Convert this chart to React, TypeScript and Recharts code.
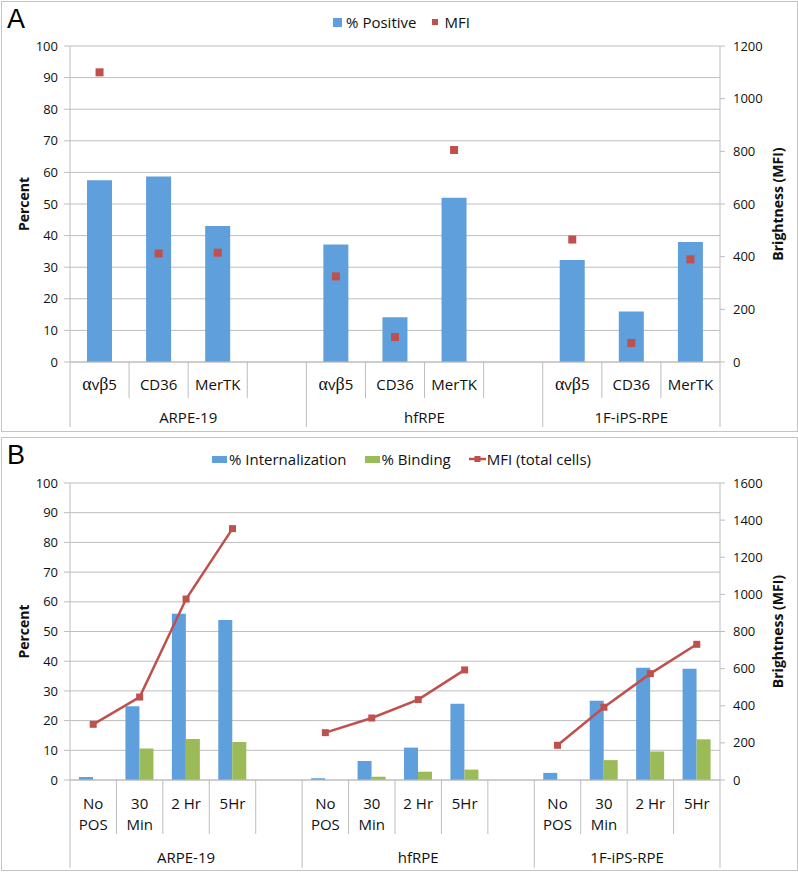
import React from "react";
import { ComposedChart, Bar, Line, XAxis, YAxis, CartesianGrid, Legend } from "recharts";

const groups = ["ARPE-19", "hfRPE", "1F-iPS-RPE"];

// panel A: receptor expression
const receptorsA = ["αvβ5", "CD36", "MerTK"];
const positiveA = [
  [57.5, 58.7, 43.0],
  [37.2, 14.2, 52.0],
  [32.3, 16.0, 38.0],
];
const mfiA = [
  [1100, 412, 415],
  [325, 95, 805],
  [465, 72, 390],
];
const mfiTicksA = [0, 200, 400, 600, 800, 1000, 1200];

// panel B: POS uptake over time
const timesB = ["No\nPOS", "30\nMin", "2 Hr", "5Hr"];
const internB = [
  [1.0, 24.8, 56.0, 53.9],
  [0.6, 6.4, 10.9, 25.7],
  [2.4, 26.7, 37.8, 37.5],
];
const bindingB = [
  [0, 10.6, 13.8, 12.8],
  [0, 1.1, 2.8, 3.5],
  [0, 6.7, 9.6, 13.7],
];
const mfiB = [
  [300, 447, 975, 1354],
  [255, 334, 433, 593],
  [187, 392, 573, 731],
];
const mfiTicksB = [0, 200, 400, 600, 800, 1000, 1200, 1400, 1600];

const percentTicks = [0, 10, 20, 30, 40, 50, 60, 70, 80, 90, 100];

const BLUE = "#5f9fdb";
const RED = "#c0504d";
const GREEN = "#9bbb59";
const GRID = "#bdbdbd";
const INK = "#111";
const FONT = "'Open Sans', sans-serif";

const CHART_W = 795;
const PLOT_W = 650;
const MARGIN_L = 20;
const MARGIN_R = 17;
const LEFT_AXIS_W = 48;
const RIGHT_AXIS_W = 60;

function buildRows(labels: string[], series: Record<string, (number | null)[][]>) {
  const rows: any[] = [];
  groups.forEach((g, gi) => {
    labels.forEach((l, li) => {
      const r: any = { key: `${g}|${li}`, label: l, group: g };
      for (const name of Object.keys(series)) r[name] = series[name][gi][li];
      rows.push(r);
    });
    if (gi < groups.length - 1) {
      const r: any = { key: `${g}|gap`, label: "", group: g };
      for (const name of Object.keys(series)) r[name] = null;
      rows.push(r);
    }
  });
  return rows;
}

const rowsA = buildRows(receptorsA, { pos: positiveA, mfi: mfiA });
const rowsB = buildRows(timesB, { intern: internB, binding: bindingB, mfi: mfiB });

function greek(t: string) {
  return t.split("").map((c, i) =>
    /[α-ω]/.test(c) ? (
      <tspan key={i} fontFamily="'Liberation Serif', serif" fontSize={18}>
        {c}
      </tspan>
    ) : (
      <tspan key={i}>{c}</tspan>
    )
  );
}

function CatTick(props: any) {
  const { x, y, payload, rows, h, lineYs } = props;
  const slot = PLOT_W / rows.length;
  const idx = rows.findIndex((r: any) => r.key === payload.value);
  const row = rows[idx];
  if (!row) return <g />;
  const left = x - slot / 2;
  const parts = row.label ? row.label.split("\n") : [];
  return (
    <g>
      <line x1={left} x2={left} y1={y} y2={y + h} stroke={GRID} />
      {idx === rows.length - 1 && <line x1={x + slot / 2} x2={x + slot / 2} y1={y} y2={y + h} stroke={GRID} />}
      {parts.map((t: string, i: number) => (
        <text key={i} x={x} y={y + lineYs[i]} dy="0.35em" textAnchor="middle" fontSize={15} fill={INK} fontFamily={FONT}>
          {greek(t)}
        </text>
      ))}
    </g>
  );
}

function GroupTick(props: any) {
  const { x, y, payload, rows, h, labelY } = props;
  const slot = PLOT_W / rows.length;
  const idx = rows.findIndex((r: any) => r.key === payload.value);
  const row = rows[idx];
  if (!row) return <g />;
  const isFirst = idx === 0 || rows[idx - 1].group !== row.group;
  const left = x - slot / 2;
  const span = rows.filter((r: any) => r.group === row.group).length;
  return (
    <g>
      {isFirst && <line x1={left} x2={left} y1={y} y2={y + h} stroke={GRID} />}
      {idx === rows.length - 1 && <line x1={x + slot / 2} x2={x + slot / 2} y1={y} y2={y + h} stroke={GRID} />}
      {isFirst && (
        <text x={left + (span * slot) / 2} y={y + labelY} dy="0.35em" textAnchor="middle" fontSize={15} fill={INK} fontFamily={FONT}>
          {row.group}
        </text>
      )}
    </g>
  );
}

const squareDot = (size: number) => (p: any) => {
  if (p.cy == null || p.value == null) return <g key={`d${p.index}`} />;
  return <rect key={`d${p.index}`} x={p.cx - size / 2} y={p.cy - size / 2} width={size} height={size} fill={RED} />;
};

const legendText: React.CSSProperties = { fontSize: 15, color: INK, fontFamily: FONT, whiteSpace: "nowrap" };

function LegendA() {
  return (
    <div style={{ display: "flex", justifyContent: "center", alignItems: "center", height: 20, paddingLeft: 4 }}>
      <span style={{ width: 9, height: 9, background: BLUE, marginRight: 4 }} />
      <span style={legendText}>% Positive</span>
      <span style={{ width: 6, height: 6, background: RED, marginLeft: 16, marginRight: 6 }} />
      <span style={legendText}>MFI</span>
    </div>
  );
}

function LegendB() {
  return (
    <div style={{ display: "flex", justifyContent: "center", alignItems: "center", height: 20, paddingLeft: 4 }}>
      <span style={{ width: 15, height: 7, background: BLUE, marginRight: 2 }} />
      <span style={legendText}>% Internalization</span>
      <span style={{ width: 15, height: 7, background: GREEN, marginLeft: 19, marginRight: 1 }} />
      <span style={legendText}>% Binding</span>
      <svg width={17} height={8} style={{ marginLeft: 18, marginRight: 1 }}>
        <line x1={0} x2={17} y1={4} y2={4} stroke={RED} strokeWidth={2.5} />
        <rect x={5.5} y={1} width={6} height={6} fill={RED} />
      </svg>
      <span style={legendText}>MFI (total cells)</span>
    </div>
  );
}

const axisTitle = { fontWeight: "bold", fontSize: 14, fill: INK, fontFamily: FONT, textAnchor: "middle" } as any;

function Panel(props: {
  top: number;
  height: number;
  letter: string;
  rows: any[];
  rightTicks: number[];
  catH: number;
  grpH: number;
  plotTop: number;
  bottomGap: number;
  lineYs: number[];
  grpLabelY: number;
  legend: React.ReactNode;
  legendTop: number;
  children: React.ReactNode;
}) {
  const chartH = props.height - 2;
  const rightMax = props.rightTicks[props.rightTicks.length - 1];
  return (
    <div
      style={{
        position: "absolute",
        left: 1,
        top: props.top,
        width: 797,
        height: props.height,
        border: "1px solid #c4c4c4",
        boxSizing: "border-box",
        background: "#fff",
      }}
    >
      <div style={{ position: "absolute", left: 5, top: 4, fontSize: 27, lineHeight: 1, fontFamily: "'Liberation Sans', Arial, sans-serif", color: "#000" }}>
        {props.letter}
      </div>
      <ComposedChart
        width={CHART_W}
        height={chartH}
        data={props.rows}
        margin={{ top: props.plotTop, right: MARGIN_R, bottom: props.bottomGap, left: MARGIN_L }}
        barGap={0}
      >
        <CartesianGrid vertical={false} stroke={GRID} yAxisId="left" xAxisId="cat" />
        <XAxis
          xAxisId="cat"
          dataKey="key"
          type="category"
          height={props.catH}
          interval={0}
          tickSize={0}
          tickMargin={0}
          tickLine={false}
          axisLine={{ stroke: GRID }}
          tick={(p: any) => <CatTick {...p} rows={props.rows} h={props.catH} lineYs={props.lineYs} />}
        />
        <XAxis
          xAxisId="grp"
          dataKey="key"
          type="category"
          height={props.grpH}
          interval={0}
          tickSize={0}
          tickMargin={0}
          tickLine={false}
          axisLine={false}
          tick={(p: any) => <GroupTick {...p} rows={props.rows} h={props.grpH} labelY={props.grpLabelY} />}
        />
        <YAxis
          yAxisId="left"
          width={LEFT_AXIS_W}
          domain={[0, 100]}
          ticks={percentTicks}
          interval={0}
          tickSize={6}
          tickMargin={6}
          axisLine={{ stroke: GRID }}
          tickLine={{ stroke: GRID }}
          tick={{ fontSize: 13, fill: INK, fontFamily: FONT }}
          label={{ value: "Percent", angle: -90, position: "insideLeft", offset: 2, style: axisTitle }}
        />
        <YAxis
          yAxisId="right"
          orientation="right"
          width={RIGHT_AXIS_W}
          domain={[0, rightMax]}
          ticks={props.rightTicks}
          interval={0}
          tickSize={5}
          tickMargin={8}
          axisLine={{ stroke: GRID }}
          tickLine={{ stroke: GRID }}
          tick={{ fontSize: 13, fill: INK, fontFamily: FONT, textAnchor: "start" }}
          label={{ value: "Brightness (MFI)", angle: -90, position: "insideRight", offset: 2, style: axisTitle }}
        />
        <Legend
          verticalAlign="middle"
          layout="horizontal"
          wrapperStyle={{ top: props.legendTop, left: 0, width: CHART_W, bottom: "auto" }}
          content={() => props.legend}
        />
        {props.children}
      </ComposedChart>
    </div>
  );
}

export default function App() {
  return (
    <div style={{ position: "relative", width: 798, height: 872, fontFamily: FONT, background: "#fff" }}>
      <style>{"body{margin:0}"}</style>
      <Panel
        top={1}
        height={431}
        letter="A"
        rows={rowsA}
        rightTicks={mfiTicksA}
        catH={36}
        grpH={29}
        plotTop={44}
        bottomGap={4}
        lineYs={[23]}
        grpLabelY={20}
        legend={<LegendA />}
        legendTop={10}
      >
        <Bar xAxisId="cat" yAxisId="left" dataKey="pos" name="% Positive" fill={BLUE} barSize={25} isAnimationActive={false} />
        <Line
          xAxisId="cat"
          yAxisId="right"
          dataKey="mfi"
          name="MFI"
          stroke="none"
          dot={squareDot(8)}
          activeDot={false}
          isAnimationActive={false}
        />
      </Panel>
      <Panel
        top={437}
        height={434}
        letter="B"
        rows={rowsB}
        rightTicks={mfiTicksB}
        catH={54}
        grpH={34}
        plotTop={45}
        bottomGap={2}
        lineYs={[24, 45]}
        grpLabelY={24}
        legend={<LegendB />}
        legendTop={11}
      >
        <Bar xAxisId="cat" yAxisId="left" dataKey="intern" name="% Internalization" fill={BLUE} barSize={14} isAnimationActive={false} />
        <Bar xAxisId="cat" yAxisId="left" dataKey="binding" name="% Binding" fill={GREEN} barSize={14} isAnimationActive={false} />
        <Line
          xAxisId="cat"
          yAxisId="right"
          dataKey="mfi"
          name="MFI (total cells)"
          stroke={RED}
          strokeWidth={2.5}
          dot={squareDot(7)}
          activeDot={false}
          connectNulls={false}
          isAnimationActive={false}
        />
      </Panel>
    </div>
  );
}
